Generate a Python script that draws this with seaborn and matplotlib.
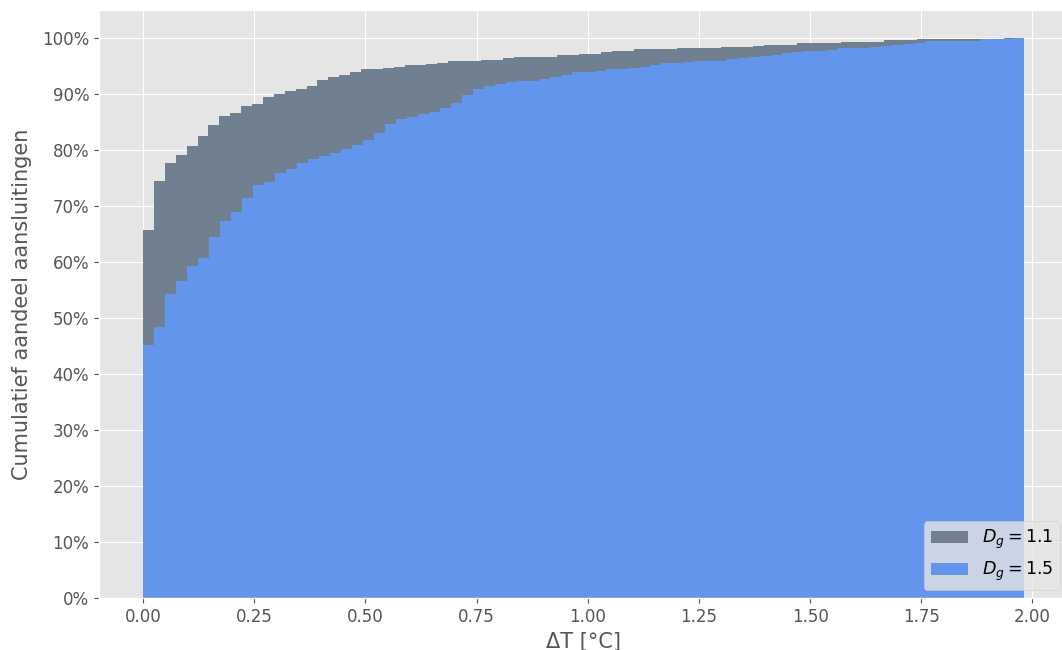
import numpy as np
import pandas as pd
import matplotlib
matplotlib.use("Agg")
import matplotlib.pyplot as plt
from matplotlib.patches import Patch
from matplotlib.ticker import PercentFormatter, MultipleLocator, FormatStrFormatter
import seaborn as sns

# ---- data (cumulative share in %, per bin) ----
n_bins = 80
max_dt_11 = 1.961   # upper edge of last bin, D_g = 1.1
max_dt_15 = 1.981   # upper edge of last bin, D_g = 1.5

cum_11 = [65.8, 74.5, 77.7, 79.1, 80.8, 82.5, 84.6, 86.1, 86.7, 87.9,
          88.3, 89.6, 90.1, 90.5, 91.0, 91.5, 92.5, 93.0, 93.4, 93.9,
          94.5, 94.6, 94.7, 94.8, 95.2, 95.3, 95.4, 95.5, 95.9, 95.9,
          95.9, 96.2, 96.2, 96.4, 96.6, 96.6, 96.6, 96.6, 97.1, 97.1,
          97.2, 97.2, 97.6, 97.8, 97.8, 98.0, 98.0, 98.0, 98.1, 98.3,
          98.3, 98.3, 98.3, 98.5, 98.5, 98.5, 98.7, 98.85, 98.85, 98.85,
          99.1, 99.1, 99.1, 99.1, 99.4, 99.4, 99.4, 99.4, 99.7, 99.7,
          99.7, 99.8, 99.9, 99.9, 99.9, 99.9, 99.9, 99.9, 99.9, 100.0]

cum_15 = [45.2, 48.4, 54.4, 56.7, 59.3, 60.8, 64.6, 67.3, 68.9, 71.4,
          73.8, 74.4, 76.0, 76.6, 77.7, 78.4, 78.9, 79.6, 80.2, 80.9,
          81.8, 83.0, 84.7, 85.5, 86.0, 86.5, 86.9, 87.5, 88.4, 89.9,
          90.9, 91.5, 91.9, 92.2, 92.3, 92.4, 92.7, 93.1, 93.5, 94.0,
          94.0, 94.2, 94.5, 94.5, 94.7, 94.9, 95.2, 95.5, 95.6, 95.7,
          96.0, 96.0, 96.0, 96.25, 96.4, 96.6, 96.8, 97.1, 97.3, 97.5,
          97.7, 97.7, 97.9, 98.2, 98.2, 98.2, 98.4, 98.7, 98.8, 99.0,
          99.2, 99.5, 99.5, 99.5, 99.6, 99.6, 99.8, 99.8, 99.9, 100.0]

labels = [r"$D_g = 1.1$", r"$D_g = 1.5$"]
colors = ["slategray", "cornflowerblue"]

# ---- plot ----
plt.style.use("ggplot")
plt.rcParams["font.family"] = ["DejaVu Sans"]

fig = plt.figure(figsize=(10.62, 6.5), dpi=100)
ax = fig.add_axes([99 / 1062, 51.7 / 650, (1068 - 99) / 1062, (639.7 - 51.7) / 650])

for cum, mx, col in zip([cum_11, cum_15], [max_dt_11, max_dt_15], colors):
    width = mx / n_bins
    centers = width * (np.arange(n_bins) + 0.5)
    df = pd.DataFrame({"dt": centers, "share": cum})
    sns.histplot(data=df, x="dt", weights="share", bins=n_bins, binrange=(0, mx),
                 element="step", fill=True, color=col, alpha=1.0, linewidth=0,
                 ax=ax)

ax.set_xlim(-0.099, 2.080)
ax.set_ylim(0, 105)
ax.yaxis.set_major_locator(MultipleLocator(10))
ax.yaxis.set_major_formatter(PercentFormatter(decimals=0))
ax.xaxis.set_major_locator(MultipleLocator(0.25))
ax.xaxis.set_major_formatter(FormatStrFormatter("%.2f"))
ax.tick_params(axis="both", labelsize=12, colors="#555555")

ax.set_xlabel("ΔT [°C]", fontsize=15, color="#555555")
ax.set_ylabel("Cumulatief aandeel aansluitingen", fontsize=15, color="#555555",
              labelpad=7)

handles = [Patch(facecolor=c, edgecolor="none", label=l) for c, l in zip(colors, labels)]
ax.legend(handles=handles, loc="lower right", fontsize=12.6, handlelength=2.1,
          borderaxespad=0.45)

fig.savefig("out.png", dpi=100)
